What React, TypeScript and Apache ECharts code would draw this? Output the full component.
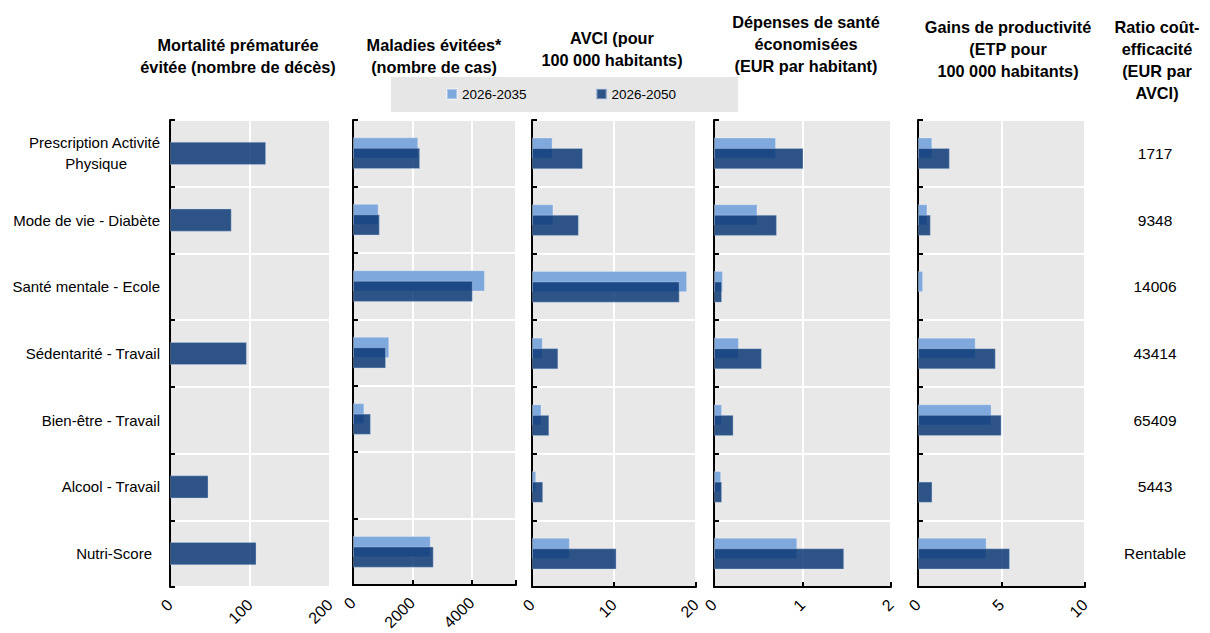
import React, { useEffect, useRef } from 'react';
import * as echarts from 'echarts';

// ---------- data ----------
const categories = [
  'Prescription Activité\nPhysique',
  'Mode de vie - Diabète',
  'Santé mentale - Ecole',
  'Sédentarité - Travail',
  'Bien-être - Travail',
  'Alcool - Travail',
  'Nutri-Score',
];
const seriesNames = ['2026-2035', '2026-2050'];

const mortalite2050 = [120, 77, null, 96, null, 48, 108];
const maladies2035 = [2200, 860, 4450, 1220, 380, null, 2620];
const maladies2050 = [2260, 900, 4040, 1110, 600, null, 2720];
const avci2035 = [2.5, 2.6, 18.9, 1.3, 1.15, 0.5, 4.6];
const avci2050 = [6.2, 5.7, 18.0, 3.2, 2.1, 1.35, 10.3];
const depenses2035 = [0.7, 0.49, 0.1, 0.28, 0.09, 0.08, 0.94];
const depenses2050 = [1.01, 0.71, 0.09, 0.54, 0.22, 0.09, 1.47];
const gains2035 = [0.85, 0.56, 0.3, 3.45, 4.4, null, 4.1];
const gains2050 = [1.9, 0.76, null, 4.65, 5.0, 0.86, 5.5];
const ratios = ['1717', '9348', '14006', '43414', '65409', '5443', 'Rentable'];

const panelTitles = [
  'Mortalité prématurée\névitée (nombre de décès)',
  'Maladies évitées*\n(nombre de cas)',
  'AVCI (pour\n100 000 habitants)',
  'Dépenses de santé\néconomisées\n(EUR par habitant)',
  'Gains de productivité\n(ETP pour\n100 000 habitants)',
  'Ratio coût-\nefficacité\n(EUR par\nAVCI)',
];
const axisMax = [200, 5500, 20, 2, 10];
const axisInterval = [100, 2000, 10, 1, 5];

// ---------- layout ----------
const FONT = "'Liberation Sans', Arial, sans-serif";
const LIGHT = '#7fa8dc';
const DARK = 'rgba(9,54,115,0.83)';
const GRID_TOP = 120;
const GRID_H = 467;
const gridBoxes = [
  { left: 170, width: 160 },
  { left: 353, width: 163 },
  { left: 532, width: 164 },
  { left: 714, width: 177 },
  { left: 918, width: 167 },
  { left: 1155, width: 1 },
];
const titlePos = [
  { x: 238, y: 34 },
  { x: 434, y: 34 },
  { x: 612, y: 27 },
  { x: 806, y: 11 },
  { x: 1008, y: 16 },
  { x: 1157, y: 16 },
];

export default function App() {
  const ref = useRef<HTMLDivElement>(null);

  useEffect(() => {
    if (!ref.current) return;
    const chart = echarts.init(ref.current, undefined, { renderer: 'svg' });

    const grid = gridBoxes.map((g, i) => ({
      left: g.left,
      width: g.width,
      top: GRID_TOP,
      height: GRID_H,
      show: i < 5,
      backgroundColor: '#e8e8e8',
      borderWidth: 0,
    }));

    const xAxis: any[] = [];
    const yAxis: any[] = [];
    for (let i = 0; i < 5; i++) {
      const iv = axisInterval[i];
      xAxis.push({
        gridIndex: i,
        type: 'value',
        min: 0,
        max: axisMax[i],
        interval: iv,
        axisLine: { show: i !== 0, lineStyle: { color: '#000', width: 2 } },
        axisTick: {
          show: i !== 0,
          inside: true,
          length: 5,
          lineStyle: { color: '#000', width: 2 },
          interval: (_idx: number, v: any) => Math.abs(Number(v) / iv - Math.round(Number(v) / iv)) < 1e-9,
        },
        splitLine: { show: true, lineStyle: { color: '#ffffff', width: 2 } },
        axisLabel: {
          rotate: 45,
          margin: 15,
          fontSize: 16,
          fontFamily: FONT,
          color: '#000',
          formatter: (v: number) => (Math.abs(v / iv - Math.round(v / iv)) < 1e-9 ? String(v) : ''),
        },
      });
      yAxis.push({
        gridIndex: i,
        type: 'category',
        inverse: true,
        data: categories,
        axisLine: { show: true, lineStyle: { color: '#000', width: 2 } },
        axisTick: { show: true, inside: true, length: 5, lineStyle: { color: '#000', width: 2 } },
        splitLine: { show: true, lineStyle: { color: '#ffffff', width: 2 } },
        axisLabel: {
          show: i === 0,
          margin: 10,
          fontSize: 15,
          fontFamily: FONT,
          color: '#000',
          lineHeight: 21,
          align: 'right',
          formatter: (v: string) => {
            if (v.indexOf('\n') >= 0) {
              const [a, b] = v.split('\n');
              return `{a|${a}}\n{b|${b}}`;
            }
            if (v === 'Nutri-Score') return `{c|${v}}`;
            return v;
          },
          rich: {
            a: { fontSize: 15, fontFamily: FONT, color: '#000', lineHeight: 21 },
            b: { fontSize: 15, fontFamily: FONT, color: '#000', lineHeight: 21, padding: [0, 33, 0, 0] },
            c: { fontSize: 15, fontFamily: FONT, color: '#000', padding: [0, 8, 0, 0] },
          },
        },
      });
    }
    // ratio column
    xAxis.push({ gridIndex: 5, type: 'value', min: 0, max: 1, show: false });
    yAxis.push({
      gridIndex: 5,
      type: 'category',
      inverse: true,
      data: ratios,
      axisLine: { show: false },
      axisTick: { show: false },
      splitLine: { show: false },
      axisLabel: { show: true, margin: 0, align: 'center', fontSize: 15.5, fontFamily: FONT, color: '#000' },
    });

    const barStyleLight = { color: LIGHT, borderColor: 'rgba(255,255,255,0.35)', borderWidth: 0.8 };
    const barStyleDark = { color: DARK, borderColor: 'rgba(200,215,240,0.45)', borderWidth: 0.8 };

    const pairs: [any[], any[]][] = [
      [maladies2035, maladies2050],
      [avci2035, avci2050],
      [depenses2035, depenses2050],
      [gains2035, gains2050],
    ];

    const series: any[] = [
      {
        name: seriesNames[1],
        type: 'bar',
        xAxisIndex: 0,
        yAxisIndex: 0,
        data: mortalite2050,
        barWidth: 23,
        itemStyle: barStyleDark,
      },
    ];
    pairs.forEach(([a, b], k) => {
      const idx = k + 1;
      series.push({
        name: seriesNames[0],
        type: 'bar',
        xAxisIndex: idx,
        yAxisIndex: idx,
        data: a,
        barWidth: 21,
        barGap: '-50%',
        itemStyle: barStyleLight,
      });
      series.push({
        name: seriesNames[1],
        type: 'bar',
        xAxisIndex: idx,
        yAxisIndex: idx,
        data: b,
        barWidth: 21,
        barGap: '-50%',
        itemStyle: barStyleDark,
      });
    });

    const graphic = panelTitles.map((t, i) => ({
      type: 'text',
      x: titlePos[i].x,
      y: titlePos[i].y,
      style: {
        text: t,
        textAlign: 'center',
        textVerticalAlign: 'top',
        fontFamily: FONT,
        fontWeight: 'bold',
        fontSize: 16.3,
        lineHeight: 22,
        fill: '#000',
      },
    }));

    chart.setOption({
      animation: false,
      backgroundColor: '#ffffff',
      grid,
      xAxis,
      yAxis,
      series,
      graphic,
      legend: {
        data: seriesNames,
        left: 391,
        top: 77,
        padding: [10, 62, 11, 55],
        backgroundColor: '#e6e6e6',
        itemWidth: 10,
        itemHeight: 10,
        itemGap: 69,
        icon: 'rect',
        selectedMode: false,
        textStyle: { fontSize: 13.5, fontFamily: FONT, color: '#000' },
      },
    });

    return () => chart.dispose();
  }, []);

  return (
    <div
      ref={ref}
      style={{ position: 'absolute', left: 0, top: 0, width: 1210, height: 633, background: '#fff' }}
    />
  );
}
